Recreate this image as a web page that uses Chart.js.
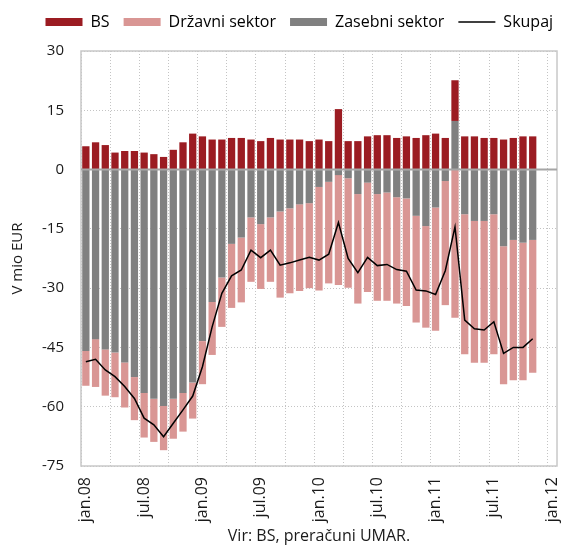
<!DOCTYPE html>
<html>
<head>
<meta charset="utf-8">
<script src="https://cdn.jsdelivr.net/npm/chart.js@4.4.0/dist/chart.umd.min.js"></script>
<style>
  html, body { margin: 0; padding: 0; background: #fff; }
</style>
</head>
<body>
<canvas id="mycanvas" width="561" height="546"></canvas>
<script>
// meseci jan.08 - jan.12 (zadnja dva brez podatkov)
const meseci = [
  'jan.08', 'feb.08', 'mar.08', 'apr.08', 'maj.08', 'jun.08', 'jul.08', 'avg.08', 'sep.08', 'okt.08', 'nov.08', 'dec.08',
  'jan.09', 'feb.09', 'mar.09', 'apr.09', 'maj.09', 'jun.09', 'jul.09', 'avg.09', 'sep.09', 'okt.09', 'nov.09', 'dec.09',
  'jan.10', 'feb.10', 'mar.10', 'apr.10', 'maj.10', 'jun.10', 'jul.10', 'avg.10', 'sep.10', 'okt.10', 'nov.10', 'dec.10',
  'jan.11', 'feb.11', 'mar.11', 'apr.11', 'maj.11', 'jun.11', 'jul.11', 'avg.11', 'sep.11', 'okt.11', 'nov.11', 'dec.11',
  'jan.12'
];

const bs = [5.9, 6.9, 6.2, 4.3, 4.7, 4.7, 4.3, 3.9, 3.2, 5.0, 6.9, 9.1,
  8.4, 7.6, 7.6, 8.0, 8.0, 7.6, 7.2, 8.0, 7.6, 7.6, 7.6, 7.2,
  7.6, 7.2, 15.3, 7.2, 7.2, 8.4, 8.7, 8.7, 8.0, 8.4, 8.0, 8.7,
  9.1, 8.0, 10.3, 8.4, 8.4, 8.0, 8.0, 7.6, 8.0, 8.4, 8.4];

const drzavni = [-8.8, -12.1, -11.7, -11.3, -11.4, -10.9, -11.3, -10.9, -11.2, -10.1, -9.8, -9.1,
  -10.9, -13.4, -12.5, -16.2, -16.4, -16.3, -16.4, -16.3, -21.8, -21.5, -21.9, -21.5,
  -26.2, -25.7, -27.8, -27.7, -27.7, -27.7, -27.0, -27.4, -26.9, -27.2, -27.0, -25.7,
  -31.2, -31.4, -37.5, -35.4, -35.9, -35.9, -35.4, -34.9, -35.5, -34.8, -33.6];

const zasebni = [-45.9, -42.9, -45.5, -46.3, -48.8, -52.5, -56.5, -58.0, -59.8, -58.0, -56.5, -53.9,
  -43.4, -33.5, -27.3, -18.8, -17.2, -12.1, -13.8, -12.1, -10.6, -9.8, -8.8, -8.5,
  -4.4, -3.1, -1.4, -2.2, -6.2, -3.3, -6.2, -5.8, -7.0, -7.3, -11.7, -14.3,
  -9.6, -2.9, 12.3, -11.3, -13.0, -13.0, -11.3, -19.4, -17.8, -18.5, -17.8];

const skupaj = [-48.6, -48.0, -50.7, -52.4, -54.9, -57.9, -62.9, -64.6, -67.6, -64.2, -60.8, -57.3,
  -49.9, -39.8, -31.3, -26.9, -25.4, -20.4, -22.3, -20.4, -24.2, -23.6, -22.9, -22.2,
  -22.9, -21.4, -13.4, -22.5, -26.1, -22.2, -24.3, -24.0, -25.3, -25.7, -30.5, -30.7,
  -31.6, -25.6, -14.5, -38.1, -40.3, -40.6, -38.5, -46.5, -45.0, -45.0, -42.8];

const colores = {
  bs: '#9b1c22',
  drzavni: '#d99694',
  zasebni: '#808080',
  skupaj: '#000000',
  mreza: '#c4c4c4',
  okvir: '#c8c8c8'
};

Chart.defaults.font.family = '"Open Sans", "DejaVu Sans", sans-serif';
Chart.defaults.font.size = 15;
Chart.defaults.color = '#1a1a1a';

// okvir, nicelna crta in polozaj legende
const okvir = {
  id: 'okvir',
  beforeInit(chart) {
    const legend = chart.legend;
    const fit = legend.fit;
    const draw = legend.draw;
    legend.fit = function () {
      fit.call(this);
      this.height += 11;
    };
    legend.draw = function () {
      this.left = 31.5;
      this.right = 640;
      draw.call(this);
    };
  },
  beforeDatasetsDraw(chart) {
    const a = chart.chartArea;
    const ctx = chart.ctx;
    ctx.save();
    ctx.strokeStyle = colores.okvir;
    ctx.lineWidth = 1.5;
    ctx.strokeRect(a.left, a.top, a.right - a.left, a.bottom - a.top);
    ctx.restore();
  },
  afterDatasetsDraw(chart) {
    const a = chart.chartArea;
    const ctx = chart.ctx;
    const y0 = chart.scales.y.getPixelForValue(0);
    ctx.save();
    ctx.strokeStyle = '#a6a6a6';
    ctx.lineWidth = 2;
    ctx.beginPath();
    ctx.moveTo(a.left, y0);
    ctx.lineTo(a.right, y0);
    ctx.stroke();
    ctx.restore();
  }
};

var data = {
  labels: meseci,
  datasets: [
    {
      type: 'line',
      label: 'Skupaj',
      data: skupaj,
      borderColor: colores.skupaj,
      borderWidth: 1.5,
      pointRadius: 0,
      fill: false,
      tension: 0
    },
    {
      label: 'Zasebni sektor',
      data: zasebni,
      backgroundColor: colores.zasebni,
      categoryPercentage: 0.75,
      barPercentage: 1
    },
    {
      label: 'Državni sektor',
      data: drzavni,
      backgroundColor: colores.drzavni,
      categoryPercentage: 0.75,
      barPercentage: 1
    },
    {
      label: 'BS',
      data: bs,
      backgroundColor: colores.bs,
      categoryPercentage: 0.75,
      barPercentage: 1
    }
  ]
};

const config = {
  type: 'bar',
  data: data,
  plugins: [okvir],
  options: {
    responsive: false,
    animation: false,
    layout: { padding: { left: 0, right: 4, top: 0, bottom: 0 } },
    plugins: {
      tooltip: { enabled: false },
      legend: {
        display: true,
        position: 'top',
        align: 'start',
        labels: {
          usePointStyle: true,
          pointStyleWidth: 37,
          boxHeight: 8,
          padding: 14,
          font: { size: 16 },
          generateLabels: function () {
            return [
              { text: 'BS', fillStyle: colores.bs, strokeStyle: colores.bs, lineWidth: 0, pointStyle: 'rect', datasetIndex: 3, hidden: false },
              { text: 'Državni sektor', fillStyle: colores.drzavni, strokeStyle: colores.drzavni, lineWidth: 0, pointStyle: 'rect', datasetIndex: 2, hidden: false },
              { text: 'Zasebni sektor', fillStyle: colores.zasebni, strokeStyle: colores.zasebni, lineWidth: 0, pointStyle: 'rect', datasetIndex: 1, hidden: false },
              { text: 'Skupaj', fillStyle: colores.skupaj, strokeStyle: colores.skupaj, lineWidth: 1.5, pointStyle: 'line', datasetIndex: 0, hidden: false }
            ];
          }
        }
      }
    },
    scales: {
      x: {
        stacked: true,
        offset: true,
        grid: {
          offset: true,
          drawTicks: false,
          color: function (c) { return c.index % 3 === 0 ? colores.mreza : 'rgba(0,0,0,0)'; }
        },
        border: { display: false, dash: [1, 2] },
        ticks: {
          autoSkip: false,
          minRotation: 90,
          maxRotation: 90,
          padding: 11,
          font: { size: 16 },
          callback: function (v, i) {
            return i % 6 === 0 ? this.getLabelForValue(v) : '';
          }
        },
        title: {
          display: true,
          text: 'Vir: BS, preračuni UMAR.',
          padding: 0,
          font: { size: 16 }
        },
        afterFit: function (s) {
          s.height = 80;
          s.paddingLeft = 0;
          s.paddingRight = 0;
        }
      },
      y: {
        stacked: true,
        min: -75,
        max: 30,
        ticks: { stepSize: 15, padding: 17 },
        grid: { drawTicks: false, color: colores.mreza },
        border: { display: false, dash: [1, 2] },
        title: {
          display: true,
          text: 'V mio EUR',
          padding: { top: 9, bottom: 0 },
          font: { size: 15 }
        },
        afterFit: function (s) {
          s.width = 81;
        }
      }
    }
  }
};

var myChart = new Chart(document.getElementById('mycanvas'), config);
</script>
</body>
</html>
